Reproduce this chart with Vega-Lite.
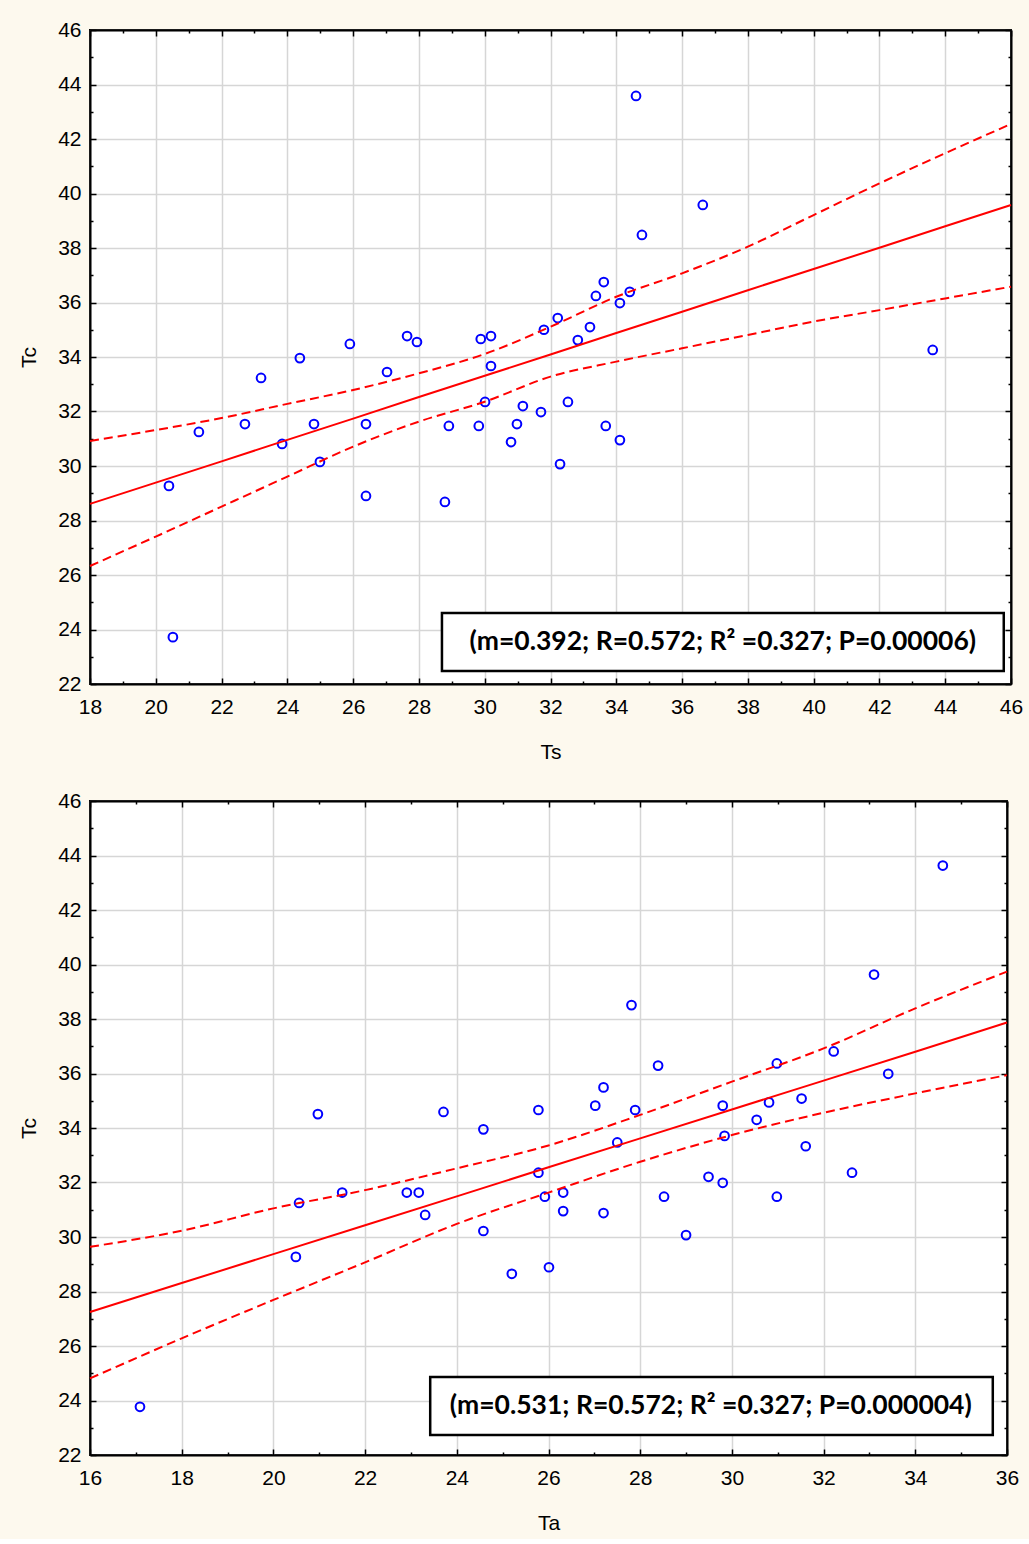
{
  "$schema": "https://vega.github.io/schema/vega-lite/v6.json",
  "background": "#fdf9ee",
  "padding": {"left": 17, "top": 18, "right": 10, "bottom": 5},
  "spacing": 26,
  "config": {
    "view": {"stroke": "black", "strokeWidth": 2, "fill": "white"},
    "axis": {
      "labelFont": "Liberation Sans",
      "labelFontSize": 21,
      "labelColor": "black",
      "titleFont": "Liberation Sans",
      "titleFontSize": 21,
      "titleFontWeight": "normal",
      "titleColor": "black",
      "domainColor": "black",
      "domainWidth": 2,
      "tickColor": "black",
      "tickWidth": 1.5,
      "gridColor": "#d6d6d6",
      "gridWidth": 1.5
    }
  },
  "datasets": {
    "tsPoints": [
      {"Ts": 20.40, "Tc": 29.27}, {"Ts": 20.52, "Tc": 23.72}, {"Ts": 21.31, "Tc": 31.25}, {"Ts": 22.71, "Tc": 31.54},
      {"Ts": 23.20, "Tc": 33.23}, {"Ts": 23.84, "Tc": 30.81}, {"Ts": 24.38, "Tc": 33.96}, {"Ts": 24.81, "Tc": 31.54},
      {"Ts": 24.99, "Tc": 30.15}, {"Ts": 25.90, "Tc": 34.48}, {"Ts": 26.39, "Tc": 31.54}, {"Ts": 26.39, "Tc": 28.90},
      {"Ts": 27.03, "Tc": 33.45}, {"Ts": 27.64, "Tc": 34.77}, {"Ts": 27.94, "Tc": 34.55}, {"Ts": 28.79, "Tc": 28.68},
      {"Ts": 28.91, "Tc": 31.47}, {"Ts": 29.82, "Tc": 31.47}, {"Ts": 29.88, "Tc": 34.66}, {"Ts": 30.01, "Tc": 32.35},
      {"Ts": 30.19, "Tc": 34.77}, {"Ts": 30.19, "Tc": 33.67}, {"Ts": 30.80, "Tc": 30.88}, {"Ts": 30.98, "Tc": 31.54},
      {"Ts": 31.16, "Tc": 32.20}, {"Ts": 31.71, "Tc": 31.98}, {"Ts": 31.80, "Tc": 35.00}, {"Ts": 32.22, "Tc": 35.43},
      {"Ts": 32.29, "Tc": 30.07}, {"Ts": 32.53, "Tc": 32.35}, {"Ts": 32.83, "Tc": 34.62}, {"Ts": 33.20, "Tc": 35.10},
      {"Ts": 33.38, "Tc": 36.24}, {"Ts": 33.62, "Tc": 36.75}, {"Ts": 33.68, "Tc": 31.47}, {"Ts": 34.11, "Tc": 30.95},
      {"Ts": 34.11, "Tc": 35.98}, {"Ts": 34.41, "Tc": 36.39}, {"Ts": 34.60, "Tc": 43.58}, {"Ts": 34.78, "Tc": 38.48},
      {"Ts": 36.63, "Tc": 39.58}, {"Ts": 43.62, "Tc": 34.26}
    ],
    "tsFit": [
      {"Ts": 18, "fit": 28.61, "upper": 30.92, "lower": 26.33},
      {"Ts": 20, "fit": 29.39, "upper": 31.32, "lower": 27.41},
      {"Ts": 22, "fit": 30.17, "upper": 31.76, "lower": 28.51},
      {"Ts": 24, "fit": 30.96, "upper": 32.28, "lower": 29.61},
      {"Ts": 26, "fit": 31.74, "upper": 32.79, "lower": 30.71},
      {"Ts": 28, "fit": 32.53, "upper": 33.40, "lower": 31.63},
      {"Ts": 30, "fit": 33.31, "upper": 34.11, "lower": 32.36},
      {"Ts": 32, "fit": 34.09, "upper": 35.11, "lower": 33.28},
      {"Ts": 34, "fit": 34.88, "upper": 36.21, "lower": 33.83},
      {"Ts": 36, "fit": 35.66, "upper": 37.07, "lower": 34.32},
      {"Ts": 38, "fit": 36.45, "upper": 38.05, "lower": 34.81},
      {"Ts": 40, "fit": 37.23, "upper": 39.21, "lower": 35.30},
      {"Ts": 42, "fit": 38.01, "upper": 40.37, "lower": 35.72},
      {"Ts": 44, "fit": 38.80, "upper": 41.48, "lower": 36.15},
      {"Ts": 46, "fit": 39.58, "upper": 42.55, "lower": 36.58}
    ],
    "taPoints": [
      {"Ta": 17.09, "Tc": 23.77}, {"Ta": 20.49, "Tc": 29.27}, {"Ta": 20.56, "Tc": 31.25}, {"Ta": 20.97, "Tc": 34.51},
      {"Ta": 21.50, "Tc": 31.63}, {"Ta": 22.91, "Tc": 31.63}, {"Ta": 23.17, "Tc": 31.63}, {"Ta": 23.31, "Tc": 30.81},
      {"Ta": 23.71, "Tc": 34.59}, {"Ta": 24.58, "Tc": 33.95}, {"Ta": 24.58, "Tc": 30.22}, {"Ta": 25.20, "Tc": 28.65},
      {"Ta": 25.78, "Tc": 34.66}, {"Ta": 25.78, "Tc": 32.36}, {"Ta": 25.92, "Tc": 31.48}, {"Ta": 26.01, "Tc": 28.89},
      {"Ta": 26.32, "Tc": 31.63}, {"Ta": 26.32, "Tc": 30.95}, {"Ta": 27.02, "Tc": 34.82}, {"Ta": 27.20, "Tc": 35.49},
      {"Ta": 27.20, "Tc": 30.88}, {"Ta": 27.50, "Tc": 33.47}, {"Ta": 27.81, "Tc": 38.51}, {"Ta": 27.89, "Tc": 34.66},
      {"Ta": 28.39, "Tc": 36.29}, {"Ta": 28.52, "Tc": 31.48}, {"Ta": 29.00, "Tc": 30.07}, {"Ta": 29.49, "Tc": 32.21},
      {"Ta": 29.80, "Tc": 34.82}, {"Ta": 29.84, "Tc": 33.71}, {"Ta": 29.80, "Tc": 31.99}, {"Ta": 30.54, "Tc": 34.30},
      {"Ta": 30.81, "Tc": 34.94}, {"Ta": 30.98, "Tc": 36.37}, {"Ta": 30.98, "Tc": 31.48}, {"Ta": 31.52, "Tc": 35.08},
      {"Ta": 31.61, "Tc": 33.33}, {"Ta": 32.22, "Tc": 36.81}, {"Ta": 32.62, "Tc": 32.36}, {"Ta": 33.10, "Tc": 39.63},
      {"Ta": 33.41, "Tc": 35.99}, {"Ta": 34.60, "Tc": 43.63}
    ],
    "taFit": [
      {"Ta": 16, "fit": 27.25, "upper": 29.64, "lower": 24.81},
      {"Ta": 18, "fit": 28.31, "upper": 30.23, "lower": 26.28},
      {"Ta": 20, "fit": 29.37, "upper": 31.05, "lower": 27.69},
      {"Ta": 22, "fit": 30.43, "upper": 31.72, "lower": 29.07},
      {"Ta": 24, "fit": 31.49, "upper": 32.52, "lower": 30.48},
      {"Ta": 26, "fit": 32.56, "upper": 33.36, "lower": 31.63},
      {"Ta": 28, "fit": 33.62, "upper": 34.48, "lower": 32.76},
      {"Ta": 30, "fit": 34.68, "upper": 35.70, "lower": 33.74},
      {"Ta": 32, "fit": 35.74, "upper": 36.92, "lower": 34.56},
      {"Ta": 34, "fit": 36.80, "upper": 38.39, "lower": 35.27},
      {"Ta": 36, "fit": 37.87, "upper": 39.74, "lower": 35.94}
    ]
  },
  "vconcat": [
    {
      "width": 921,
      "height": 654,
      "resolve": {"axis": {"x": "independent", "y": "independent"}},
      "layer": [
        {
          "data": {"name": "tsPoints"},
          "mark": {"type": "point", "shape": "circle", "filled": false, "color": "#0000ff", "size": 76, "strokeWidth": 2, "opacity": 1},
          "encoding": {
            "x": {"field": "Ts", "type": "quantitative",
              "scale": {"domain": [18, 46], "nice": false, "zero": false},
              "axis": {"orient": "bottom", "title": "Ts",
                "values": [18,19,20,21,22,23,24,25,26,27,28,29,30,31,32,33,34,35,36,37,38,39,40,41,42,43,44,45,46],
                "labelExpr": "datum.value % 2 === 0 ? datum.label : ''",
                "labelFlush": false, "labelOverlap": false, "labelPadding": 18,
                "tickSize": {"condition": {"test": "datum.value % 2 === 0", "value": -6}, "value": -3},
                "grid": true,
                "gridOpacity": {"condition": {"test": "datum.value % 2 === 0", "value": 1}, "value": 0},
                "titlePadding": 21}},
            "y": {"field": "Tc", "type": "quantitative",
              "scale": {"domain": [22, 46], "nice": false, "zero": false},
              "axis": {"orient": "left", "title": "Tc",
                "values": [22,23,24,25,26,27,28,29,30,31,32,33,34,35,36,37,38,39,40,41,42,43,44,45,46],
                "labelExpr": "datum.value % 2 === 0 ? datum.label : ''",
                "labelFlush": false, "labelOverlap": false, "labelPadding": 15,
                "tickSize": {"condition": {"test": "datum.value % 2 === 0", "value": -6}, "value": -3},
                "grid": true,
                "gridOpacity": {"condition": {"test": "datum.value % 2 === 0", "value": 1}, "value": 0},
                "titlePadding": 18}}
          }
        },
        {
          "data": {"name": "tsFit"},
          "mark": {"type": "line", "color": "#ff0000", "strokeWidth": 2, "strokeDash": [9, 5], "interpolate": "monotone"},
          "encoding": {
            "x": {"field": "Ts", "type": "quantitative", "axis": null},
            "y": {"field": "upper", "type": "quantitative", "axis": null}
          }
        },
        {
          "data": {"name": "tsFit"},
          "mark": {"type": "line", "color": "#ff0000", "strokeWidth": 2, "strokeDash": [9, 5], "interpolate": "monotone"},
          "encoding": {
            "x": {"field": "Ts", "type": "quantitative", "axis": null},
            "y": {"field": "lower", "type": "quantitative", "axis": null}
          }
        },
        {
          "data": {"name": "tsFit"},
          "mark": {"type": "line", "color": "#ff0000", "strokeWidth": 2},
          "encoding": {
            "x": {"field": "Ts", "type": "quantitative",
              "axis": {"orient": "top", "title": null, "labels": false, "grid": false,
                "values": [18,19,20,21,22,23,24,25,26,27,28,29,30,31,32,33,34,35,36,37,38,39,40,41,42,43,44,45,46],
                "tickSize": {"condition": {"test": "datum.value % 2 === 0", "value": -6}, "value": -3}}},
            "y": {"field": "fit", "type": "quantitative",
              "axis": {"orient": "right", "title": null, "labels": false, "grid": false,
                "values": [22,23,24,25,26,27,28,29,30,31,32,33,34,35,36,37,38,39,40,41,42,43,44,45,46],
                "tickSize": {"condition": {"test": "datum.value % 2 === 0", "value": -6}, "value": -3}}}
          }
        },
        {
          "data": {"values": [{"box": "stats"}]},
          "mark": {"type": "rect", "fill": "white", "stroke": "black", "strokeWidth": 2.5},
          "encoding": {
            "x": {"datum": 28.70, "type": "quantitative", "axis": null},
            "x2": {"datum": 45.78},
            "y": {"datum": 24.61, "type": "quantitative", "axis": null},
            "y2": {"datum": 22.48}
          }
        },
        {
          "data": {"values": [{"label": "(m=0.392; R=0.572; R² =0.327; P=0.00006)"}]},
          "mark": {"type": "text", "font": "Lato", "fontWeight": "bold", "fontSize": 26.5, "color": "black", "align": "center", "baseline": "middle"},
          "encoding": {
            "x": {"datum": 37.24, "type": "quantitative", "axis": null},
            "y": {"datum": 23.54, "type": "quantitative", "axis": null},
            "text": {"field": "label"}
          }
        }
      ]
    },
    {
      "width": 917,
      "height": 654,
      "resolve": {"axis": {"x": "independent", "y": "independent"}},
      "layer": [
        {
          "data": {"name": "taPoints"},
          "mark": {"type": "point", "shape": "circle", "filled": false, "color": "#0000ff", "size": 76, "strokeWidth": 2, "opacity": 1},
          "encoding": {
            "x": {"field": "Ta", "type": "quantitative",
              "scale": {"domain": [16, 36], "nice": false, "zero": false},
              "axis": {"orient": "bottom", "title": "Ta",
                "values": [16,17,18,19,20,21,22,23,24,25,26,27,28,29,30,31,32,33,34,35,36],
                "labelExpr": "datum.value % 2 === 0 ? datum.label : ''",
                "labelFlush": false, "labelOverlap": false, "labelPadding": 18,
                "tickSize": {"condition": {"test": "datum.value % 2 === 0", "value": -6}, "value": -3},
                "grid": true,
                "gridOpacity": {"condition": {"test": "datum.value % 2 === 0", "value": 1}, "value": 0},
                "titlePadding": 21}},
            "y": {"field": "Tc", "type": "quantitative",
              "scale": {"domain": [22, 46], "nice": false, "zero": false},
              "axis": {"orient": "left", "title": "Tc",
                "values": [22,23,24,25,26,27,28,29,30,31,32,33,34,35,36,37,38,39,40,41,42,43,44,45,46],
                "labelExpr": "datum.value % 2 === 0 ? datum.label : ''",
                "labelFlush": false, "labelOverlap": false, "labelPadding": 15,
                "tickSize": {"condition": {"test": "datum.value % 2 === 0", "value": -6}, "value": -3},
                "grid": true,
                "gridOpacity": {"condition": {"test": "datum.value % 2 === 0", "value": 1}, "value": 0},
                "titlePadding": 18}}
          }
        },
        {
          "data": {"name": "taFit"},
          "mark": {"type": "line", "color": "#ff0000", "strokeWidth": 2, "strokeDash": [9, 5], "interpolate": "monotone"},
          "encoding": {
            "x": {"field": "Ta", "type": "quantitative", "axis": null},
            "y": {"field": "upper", "type": "quantitative", "axis": null}
          }
        },
        {
          "data": {"name": "taFit"},
          "mark": {"type": "line", "color": "#ff0000", "strokeWidth": 2, "strokeDash": [9, 5], "interpolate": "monotone"},
          "encoding": {
            "x": {"field": "Ta", "type": "quantitative", "axis": null},
            "y": {"field": "lower", "type": "quantitative", "axis": null}
          }
        },
        {
          "data": {"name": "taFit"},
          "mark": {"type": "line", "color": "#ff0000", "strokeWidth": 2},
          "encoding": {
            "x": {"field": "Ta", "type": "quantitative",
              "axis": {"orient": "top", "title": null, "labels": false, "grid": false,
                "values": [16,17,18,19,20,21,22,23,24,25,26,27,28,29,30,31,32,33,34,35,36],
                "tickSize": {"condition": {"test": "datum.value % 2 === 0", "value": -6}, "value": -3}}},
            "y": {"field": "fit", "type": "quantitative",
              "axis": {"orient": "right", "title": null, "labels": false, "grid": false,
                "values": [22,23,24,25,26,27,28,29,30,31,32,33,34,35,36,37,38,39,40,41,42,43,44,45,46],
                "tickSize": {"condition": {"test": "datum.value % 2 === 0", "value": -6}, "value": -3}}}
          }
        },
        {
          "data": {"values": [{"box": "stats"}]},
          "mark": {"type": "rect", "fill": "white", "stroke": "black", "strokeWidth": 2.5},
          "encoding": {
            "x": {"datum": 23.42, "type": "quantitative", "axis": null},
            "x2": {"datum": 35.69},
            "y": {"datum": 24.86, "type": "quantitative", "axis": null},
            "y2": {"datum": 22.73}
          }
        },
        {
          "data": {"values": [{"label": "(m=0.531; R=0.572; R² =0.327; P=0.000004)"}]},
          "mark": {"type": "text", "font": "Lato", "fontWeight": "bold", "fontSize": 26.5, "color": "black", "align": "center", "baseline": "middle"},
          "encoding": {
            "x": {"datum": 29.54, "type": "quantitative", "axis": null},
            "y": {"datum": 23.80, "type": "quantitative", "axis": null},
            "text": {"field": "label"}
          }
        }
      ]
    }
  ]
}
